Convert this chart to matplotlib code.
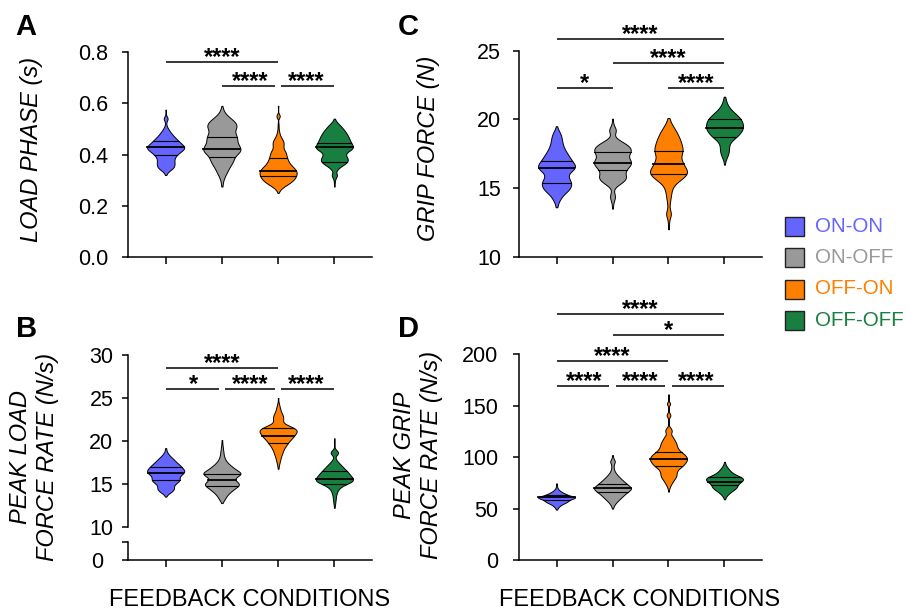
import numpy as np
import matplotlib
matplotlib.use("Agg")
import matplotlib.pyplot as plt
from matplotlib.patches import Rectangle

plt.rcParams['font.family'] = ['Liberation Sans', 'DejaVu Sans']

CONDITIONS = ["ON-ON", "ON-OFF", "OFF-ON", "OFF-OFF"]
COLORS = ["#6464FF", "#999999", "#FF8000", "#187F40"]

# Trial distributions: value levels and number of trials at each level
LOAD_PHASE_LEVELS = {
    "ON-ON":   [0.32, 0.33, 0.34, 0.35, 0.36, 0.37, 0.38, 0.39, 0.40, 0.41, 0.42, 0.43, 0.44, 0.45, 0.46, 0.47, 0.48, 0.49, 0.50, 0.51, 0.52, 0.53, 0.54, 0.55, 0.575],
    "ON-OFF":  [0.275, 0.28, 0.29, 0.30, 0.31, 0.32, 0.33, 0.34, 0.35, 0.36, 0.37, 0.38, 0.39, 0.40, 0.41, 0.42, 0.43, 0.44, 0.45, 0.46, 0.47, 0.48, 0.49, 0.50, 0.51, 0.52, 0.53, 0.54, 0.55, 0.56, 0.57, 0.58, 0.59],
    "OFF-ON":  [0.25, 0.26, 0.27, 0.28, 0.29, 0.30, 0.31, 0.32, 0.33, 0.34, 0.35, 0.36, 0.37, 0.38, 0.39, 0.40, 0.41, 0.42, 0.43, 0.44, 0.45, 0.46, 0.47, 0.48, 0.49, 0.50, 0.51, 0.52, 0.55, 0.59],
    "OFF-OFF": [0.275, 0.29, 0.30, 0.31, 0.32, 0.33, 0.34, 0.35, 0.36, 0.37, 0.38, 0.39, 0.40, 0.41, 0.42, 0.43, 0.44, 0.45, 0.46, 0.47, 0.48, 0.49, 0.50, 0.51, 0.52, 0.53, 0.54],
}
LOAD_PHASE_COUNTS = {
    "ON-ON":   [1, 3, 10, 16, 17, 17, 16, 18, 22, 28, 35, 37, 31, 26, 21, 16, 12, 8, 5, 2, 1, 1, 6, 1, 1],
    "ON-OFF":  [1, 1, 2, 3, 5, 7, 10, 12, 15, 18, 21, 23, 25, 29, 35, 37, 35, 32, 30, 30, 29, 27, 25, 27, 29, 28, 24, 18, 12, 7, 4, 2, 1],
    "OFF-ON":  [1, 3, 8, 16, 24, 30, 34, 36, 37, 35, 30, 25, 21, 19, 17, 16, 15, 11, 10, 11, 11, 8, 5, 3, 2, 1, 1, 1, 6, 1],
    "OFF-OFF": [1, 1, 1, 3, 7, 2, 5, 10, 18, 25, 27, 24, 21, 24, 34, 37, 34, 31, 29, 27, 24, 21, 17, 13, 8, 3, 1],
}
LOAD_PHASE_QUARTILES = {
    "ON-ON": [0.398, 0.428, 0.454], "ON-OFF": [0.391, 0.421, 0.467],
    "OFF-ON": [0.316, 0.335, 0.385], "OFF-OFF": [0.372, 0.428, 0.446],
}

LOAD_RATE_LEVELS = {
    "ON-ON":   [13.5, 13.75, 14.0, 14.25, 14.5, 14.75, 15.0, 15.25, 15.5, 15.75, 16.0, 16.25, 16.5, 16.75, 17.0, 17.25, 17.5, 17.75, 18.0, 18.25, 18.5, 18.75, 19.0, 19.15],
    "ON-OFF":  [12.75, 13.0, 13.25, 13.5, 13.75, 14.0, 14.25, 14.5, 14.75, 15.0, 15.25, 15.5, 15.75, 16.0, 16.25, 16.5, 16.75, 17.0, 17.25, 17.5, 17.75, 18.0, 18.25, 18.5, 18.75, 19.0, 19.25, 19.5, 19.75, 20.1],
    "OFF-ON":  [16.75, 17.0, 17.25, 17.5, 17.75, 18.0, 18.25, 18.5, 18.75, 19.0, 19.25, 19.5, 19.75, 20.0, 20.25, 20.5, 20.75, 21.0, 21.25, 21.5, 21.75, 22.0, 22.25, 22.5, 22.75, 23.0, 23.25, 23.5, 23.75, 24.0, 24.25, 24.5, 25.0],
    "OFF-OFF": [12.2, 12.5, 12.75, 13.0, 13.25, 13.5, 13.75, 14.0, 14.25, 14.5, 14.75, 15.0, 15.25, 15.5, 15.75, 16.0, 16.25, 16.5, 16.75, 17.0, 17.25, 17.5, 17.75, 18.0, 18.25, 18.5, 18.75, 19.0, 19.5, 20.3],
}
LOAD_RATE_COUNTS = {
    "ON-ON":   [1, 3, 10, 15, 17, 15, 19, 25, 28, 26, 29, 35, 37, 34, 30, 26, 21, 17, 13, 8, 5, 2, 1, 1],
    "ON-OFF":  [1, 3, 6, 8, 11, 15, 20, 25, 31, 33, 28, 23, 26, 33, 37, 30, 24, 19, 14, 10, 7, 5, 4, 3, 3, 2, 2, 1, 1, 1],
    "OFF-ON":  [1, 1, 2, 3, 4, 5, 6, 8, 9, 11, 13, 16, 19, 22, 26, 30, 33, 36, 37, 31, 22, 12, 9, 10, 10, 9, 7, 5, 4, 3, 2, 1, 1],
    "OFF-OFF": [1, 1, 2, 2, 3, 3, 4, 5, 7, 10, 16, 25, 35, 37, 35, 31, 28, 24, 20, 16, 12, 8, 4, 2, 2, 8, 8, 2, 1, 1],
}
LOAD_RATE_QUARTILES = {
    "ON-ON": [15.47, 16.24, 16.94], "ON-OFF": [14.69, 15.47, 16.13],
    "OFF-ON": [19.73, 20.62, 21.47], "OFF-OFF": [14.96, 15.58, 16.51],
}

GRIP_FORCE_LEVELS = {
    "ON-ON":   [13.6, 13.75, 14.0, 14.25, 14.5, 14.75, 15.0, 15.25, 15.5, 15.75, 16.0, 16.25, 16.5, 16.75, 17.0, 17.25, 17.5, 17.75, 18.0, 18.25, 18.5, 18.75, 19.0, 19.25, 19.5],
    "ON-OFF":  [13.5, 13.75, 14.0, 14.25, 14.5, 14.75, 15.0, 15.25, 15.5, 15.75, 16.0, 16.25, 16.5, 16.75, 17.0, 17.25, 17.5, 17.75, 18.0, 18.25, 18.5, 18.75, 19.0, 19.25, 19.5, 19.75, 20.05],
    "OFF-ON":  [12.0, 12.25, 12.5, 12.75, 13.0, 13.25, 13.5, 13.75, 14.0, 14.25, 14.5, 14.75, 15.0, 15.25, 15.5, 15.75, 16.0, 16.25, 16.5, 16.75, 17.0, 17.25, 17.5, 17.75, 18.0, 18.25, 18.5, 18.75, 19.0, 19.25, 19.5, 19.75, 20.0, 20.1],
    "OFF-OFF": [16.7, 17.0, 17.25, 17.5, 17.75, 18.0, 18.25, 18.5, 18.75, 19.0, 19.25, 19.5, 19.75, 20.0, 20.25, 20.5, 20.75, 21.0, 21.25, 21.5, 21.65],
}
GRIP_FORCE_COUNTS = {
    "ON-ON":   [1, 2, 4, 8, 12, 20, 25, 28, 26, 22, 21, 28, 36, 33, 28, 24, 20, 16, 13, 11, 10, 9, 7, 3, 1],
    "ON-OFF":  [1, 1, 2, 5, 5, 2, 3, 12, 22, 27, 24, 24, 30, 36, 35, 29, 32, 36, 33, 24, 12, 3, 5, 8, 3, 1, 1],
    "OFF-ON":  [1, 1, 1, 2, 5, 5, 2, 2, 3, 4, 5, 6, 8, 12, 20, 29, 36, 37, 33, 29, 26, 24, 26, 28, 27, 25, 23, 20, 17, 13, 9, 5, 2, 1],
    "OFF-OFF": [1, 2, 5, 8, 9, 9, 10, 16, 25, 31, 36, 37, 36, 33, 27, 19, 12, 7, 4, 2, 1],
}
GRIP_FORCE_QUARTILES = {
    "ON-ON": [15.34, 16.44, 16.97], "ON-OFF": [16.32, 16.85, 17.65],
    "OFF-ON": [16.02, 16.73, 17.72], "OFF-OFF": [18.7, 19.35, 20.0],
}

GRIP_RATE_LEVELS = {
    "ON-ON":   [49, 50, 51, 52, 53, 54, 55, 56, 57, 58, 59, 60, 61, 62, 63, 64, 65, 66, 67, 68, 69, 70, 71, 72, 73, 74.5],
    "ON-OFF":  [50, 52, 54, 56, 58, 60, 62, 64, 66, 68, 70, 72, 74, 76, 78, 80, 82, 84, 86, 88, 90, 92, 94, 96, 98, 100, 102],
    "OFF-ON":  [66.5, 70, 72.5, 75, 77.5, 80, 82.5, 85, 87.5, 90, 92.5, 95, 97.5, 100, 102.5, 105, 107.5, 110, 112.5, 115, 117.5, 120, 122.5, 125, 127.5, 130, 135, 140, 142, 147, 152, 161],
    "OFF-OFF": [59, 61, 63, 65, 67, 69, 71, 73, 75, 77, 79, 81, 83, 85, 87, 89, 91, 93, 95.5],
}
GRIP_RATE_COUNTS = {
    "ON-ON":   [1, 2, 3, 5, 7, 10, 14, 18, 21, 23, 26, 33, 37, 30, 22, 18, 14, 10, 7, 5, 3, 2, 1, 1, 1, 1],
    "ON-OFF":  [1, 2, 4, 7, 11, 15, 19, 23, 28, 33, 37, 31, 27, 22, 18, 14, 10, 7, 4, 3, 2, 2, 3, 6, 2, 1, 1],
    "OFF-ON":  [1, 2, 4, 7, 10, 14, 16, 16, 18, 24, 30, 34, 37, 36, 32, 25, 20, 17, 16, 14, 11, 8, 4, 7, 6, 1, 1, 4, 3, 1, 5, 1],
    "OFF-OFF": [1, 2, 5, 9, 14, 20, 24, 24, 28, 34, 37, 30, 20, 14, 10, 7, 4, 2, 1],
}
GRIP_RATE_QUARTILES = {
    "ON-ON": [58.3, 60.9, 63.2], "ON-OFF": [66.5, 69.7, 73.9],
    "OFF-ON": [91.4, 97.9, 104.7], "OFF-OFF": [72.9, 76.2, 80.4],
}

# (from, to, bar height, label)
LOAD_PHASE_SIG = [(1, 3, 0.762, "****"), (2, 3, 0.668, "****"), (3, 4, 0.668, "****")]
LOAD_RATE_SIG = [(1, 3, 28.5, "****"), (1, 2, 26.0, "*"), (2, 3, 26.0, "****"), (3, 4, 26.0, "****")]
GRIP_FORCE_SIG = [(1, 4, 25.83, "****"), (2, 4, 24.08, "****"), (1, 2, 22.3, "*"), (3, 4, 22.3, "****")]
GRIP_RATE_SIG = [(1, 4, 238.9, "****"), (2, 4, 218.8, "*"), (1, 3, 193.5, "****"),
                 (1, 2, 169.5, "****"), (2, 3, 169.5, "****"), (3, 4, 169.5, "****")]

W, H = 919, 612
fig = plt.figure(figsize=(W / 100, H / 100), dpi=100)
fig.patch.set_facecolor("white")


def px_axes(left, top, right, bottom):
    return fig.add_axes([left / W, 1 - bottom / H, (right - left) / W, (bottom - top) / H])


def style(ax, pad, xaxis=True):
    for s in ("top", "right"):
        ax.spines[s].set_visible(False)
    for s in ("left", "bottom"):
        ax.spines[s].set_linewidth(1.1)
    ax.tick_params(axis="y", direction="out", length=4, width=1.1, labelsize=15.5, pad=pad)
    ax.tick_params(axis="x", direction="out", length=5, width=1.1, labelbottom=False)
    ax.set_xlim(0.33, 4.67)
    ax.set_xticks([1, 2, 3, 4])
    if not xaxis:
        ax.spines["bottom"].set_visible(False)
        ax.tick_params(axis="x", length=0)
    ax.patch.set_alpha(0)


def draw_violins(ax, levels, counts, quartiles, bws):
    for i, cond in enumerate(CONDITIONS):
        pos = i + 1
        samples = np.repeat(levels[cond], counts[cond])
        factor = bws[i] / samples.std(ddof=1)
        parts = ax.violinplot([samples], positions=[pos], widths=0.66, showextrema=False,
                              bw_method=factor, points=500)
        body = parts["bodies"][0]
        body.set_facecolor(COLORS[i])
        body.set_edgecolor("black")
        body.set_linewidth(0.7)
        body.set_alpha(1)
        verts = body.get_paths()[0].vertices
        right = verts[verts[:, 0] >= pos]
        order = np.argsort(right[:, 1])
        ys, xs = right[order, 1], right[order, 0]
        for q, lw in zip(quartiles[cond], [0.8, 1.3, 0.8]):
            half = np.interp(q, ys, xs) - pos
            ax.plot([pos - half, pos + half], [q, q], color="black", lw=lw, zorder=3)


def draw_sig(ax, comps):
    shrink = 0.055
    for a, b, y, lab in comps:
        x1, x2 = a, b
        for c, d, yy, _ in comps:
            if yy == y and (c, d) != (a, b):
                if d == a:
                    x1 = a + shrink
                if c == b:
                    x2 = b - shrink
        ax.plot([x1, x2], [y, y], color="black", lw=1.1, clip_on=False, solid_capstyle="butt")
        ax.annotate(lab, xy=((a + b) / 2, y), xytext=(0, -1.5), textcoords="offset points",
                    ha="center", va="baseline", fontsize=17, fontweight="bold",
                    annotation_clip=False)


# ── A: load phase ─────────────────────────────────────────────────────────────
axA = px_axes(128, 52, 372, 257)
style(axA, pad=10)
axA.set_ylim(0, 0.8)
axA.set_yticks([0.0, 0.2, 0.4, 0.6, 0.8])
draw_violins(axA, LOAD_PHASE_LEVELS, LOAD_PHASE_COUNTS, LOAD_PHASE_QUARTILES, [0.0075] * 4)
draw_sig(axA, LOAD_PHASE_SIG)

# ── B: peak load force rate (broken axis) ────────────────────────────────────
axB = px_axes(128, 355, 372, 526.7)
style(axB, pad=6.5, xaxis=False)
axB.set_ylim(10, 30)
axB.set_yticks([10, 15, 20, 25, 30])
draw_violins(axB, LOAD_RATE_LEVELS, LOAD_RATE_COUNTS, LOAD_RATE_QUARTILES, [0.19] * 4)
draw_sig(axB, LOAD_RATE_SIG)

axB0 = px_axes(128, 541.7, 372, 560)
style(axB0, pad=13.5)
axB0.set_ylim(0, 2.13)
axB0.set_yticks([0, 2.13])
axB0.set_yticklabels(["0", ""])

# ── C: grip force ────────────────────────────────────────────────────────────
axC = px_axes(519, 50.7, 762, 256.7)
style(axC, pad=9)
axC.set_ylim(10, 25)
axC.set_yticks([10, 15, 20, 25])
draw_violins(axC, GRIP_FORCE_LEVELS, GRIP_FORCE_COUNTS, GRIP_FORCE_QUARTILES, [0.19] * 4)
draw_sig(axC, GRIP_FORCE_SIG)

# ── D: peak grip force rate ──────────────────────────────────────────────────
axD = px_axes(519, 354.3, 762, 560)
style(axD, pad=11)
axD.set_ylim(0, 200)
axD.set_yticks([0, 50, 100, 150, 200])
draw_violins(axD, GRIP_RATE_LEVELS, GRIP_RATE_COUNTS, GRIP_RATE_QUARTILES, [0.8, 1.6, 1.6, 1.6])
draw_sig(axD, GRIP_RATE_SIG)

# ── Labels ───────────────────────────────────────────────────────────────────
for lab, x, y in [("A", 15, 35), ("B", 16, 337), ("C", 398, 35), ("D", 398, 337)]:
    fig.text(x / W, 1 - y / H, lab, ha="left", va="baseline", fontsize=21, fontweight="bold")

ylabels = [("LOAD PHASE (s)", 32, 149), ("PEAK LOAD\nFORCE RATE (N/s)", 34, 457),
           ("GRIP FORCE (N)", 428, 148), ("PEAK GRIP\nFORCE RATE (N/s)", 418, 455)]
for lab, x, y in ylabels:
    fig.text(x / W, 1 - y / H, lab, rotation=90, ha="center", va="center", fontsize=17,
             style="italic", multialignment="center", linespacing=1.22)

for x in (250, 640):
    fig.text(x / W, 1 - 606 / H, "FEEDBACK CONDITIONS", ha="center", va="baseline", fontsize=17)

# ── Legend ───────────────────────────────────────────────────────────────────
for i, (cond, col) in enumerate(zip(CONDITIONS, COLORS)):
    yc = 226 + i * 31.5
    fig.add_artist(Rectangle((785 / W, 1 - (yc + 9.5) / H), 19 / W, 19 / H, transform=fig.transFigure,
                             facecolor=col, edgecolor="#222222", linewidth=1))
    fig.text(815 / W, 1 - yc / H, cond, ha="left", va="center", fontsize=14.8, color=col)

fig.savefig("out.png", dpi=100, facecolor="white")
